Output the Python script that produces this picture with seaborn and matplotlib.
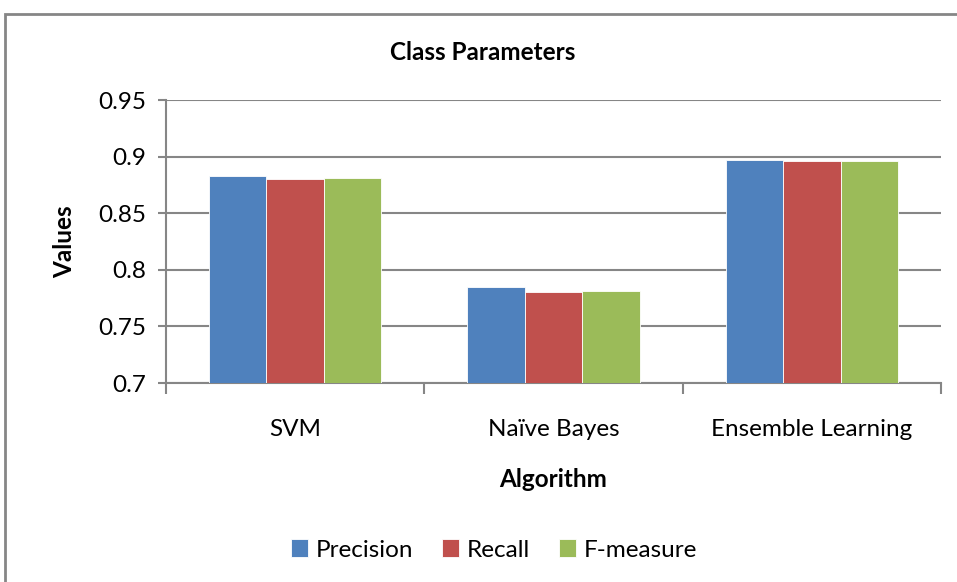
import matplotlib
matplotlib.use("Agg")
import matplotlib.pyplot as plt
import seaborn as sns
import pandas as pd
from matplotlib.patches import Rectangle

algorithms = ["SVM", "Naïve Bayes", "Ensemble Learning"]
metrics = ["Precision", "Recall", "F-measure"]
precision = [0.883, 0.785, 0.897]
recall = [0.880, 0.780, 0.896]
fmeasure = [0.881, 0.781, 0.896]
yticks = [0.7, 0.75, 0.8, 0.85, 0.9, 0.95]
ytick_labels = ["0.7", "0.75", "0.8", "0.85", "0.9", "0.95"]
colors = ["#4F81BD", "#C0504D", "#9BBB59"]

rows = []
for m, vals in zip(metrics, [precision, recall, fmeasure]):
    for a, v in zip(algorithms, vals):
        rows.append({"Algorithm": a, "Metric": m, "Value": v})
df = pd.DataFrame(rows)

sns.set_theme(style="white")
plt.rcParams["font.family"] = ["Lato", "DejaVu Sans"]
FS = 17.5

fig = plt.figure(figsize=(9.57, 5.82), dpi=100)
ax = fig.add_axes([166/957, 1-383/582, (941-166)/957, (383-100)/582])

sns.barplot(data=df, x="Algorithm", y="Value", hue="Metric", palette=colors,
            order=algorithms, hue_order=metrics, width=0.667, ax=ax,
            edgecolor="white", linewidth=0.6, saturation=1, zorder=3)

ax.set_ylim(0.7, 0.95)
ax.set_yticks(yticks)
ax.set_yticklabels(ytick_labels, fontsize=FS)
ax.set_xlim(-0.5, 2.5)
ax.yaxis.grid(True, color="#868686", linewidth=1.5, zorder=0)
ax.set_axisbelow(True)
for s in ["top", "right"]:
    ax.spines[s].set_visible(False)
for s in ["left", "bottom"]:
    ax.spines[s].set_color("#868686")
    ax.spines[s].set_linewidth(1.5)

ax.tick_params(axis="y", which="major", length=6, width=1.5, color="#868686",
               direction="out", left=True, pad=8, labelcolor="black")
ax.tick_params(axis="x", which="major", length=0, pad=26, labelsize=FS,
               labelcolor="black")
ax.set_xticks([0, 1, 2])
ax.set_xticklabels(algorithms)
ax.set_xticks([-0.5, 0.5, 1.5, 2.5], minor=True)
ax.tick_params(axis="x", which="minor", length=8, width=1.5, color="#868686",
               direction="out", bottom=True)

ax.set_xlabel("Algorithm", fontsize=FS, fontweight="bold", labelpad=20, color="black")
ax.set_ylabel("Values", fontsize=FS, fontweight="bold", labelpad=16, color="black")
fig.text(483/957, 1 - 53/582, "Class Parameters",
         ha="center", va="center", fontsize=FS, fontweight="bold", color="black")

leg = ax.legend(loc="center", frameon=False, ncol=3,
                fontsize=FS, handlelength=0.7, handleheight=0.7, handletextpad=0.3,
                columnspacing=1.2)
leg.set_bbox_to_anchor((494/957, 1 - 550/582), transform=fig.transFigure)
for t in leg.get_texts():
    t.set_color("black")

fig.patches.append(Rectangle((5/957, -0.1), 1.2, 1 - 14/582 + 0.1,
                             transform=fig.transFigure, fill=False,
                             edgecolor="#868686", linewidth=2))

fig.savefig("out.png", dpi=100)
